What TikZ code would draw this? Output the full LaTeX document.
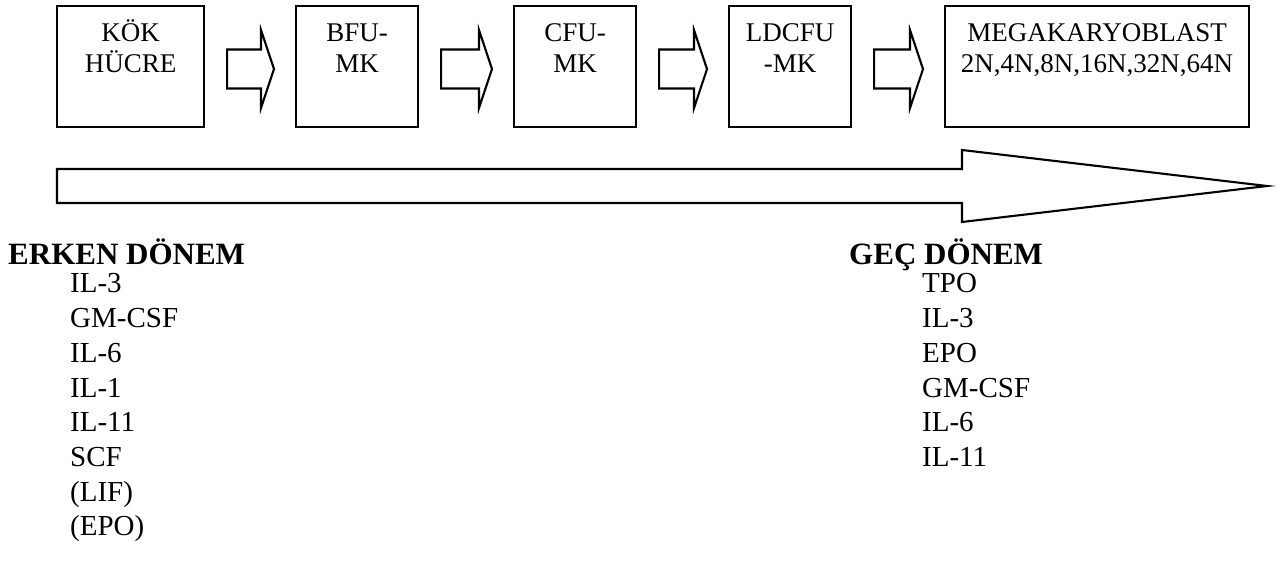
\documentclass[tikz,border=0pt]{standalone}
\usepackage{fontspec}
\setmainfont{Liberation Serif}
\usetikzlibrary{positioning,calc}

\begin{document}
\begin{tikzpicture}[x=1pt, y=-1pt,
    kutu/.style={draw, line width=2.1pt, anchor=north west, minimum height=121pt, inner sep=0pt},
    kutuyazi/.style={anchor=north, yshift=-14pt, align=center, inner sep=0pt,
        font=\fontsize{27}{31}\selectfont},
    blok/.style={draw, line width=2.1pt, line join=miter},
    baslik/.style={anchor=base west, inner sep=0pt, font=\bfseries\fontsize{31}{36}\selectfont},
    liste/.style={anchor=north west, inner sep=0pt, align=left, font=\fontsize{29}{34.7}\selectfont}]

    \useasboundingbox (0,0) rectangle (1285,569);

    % hucre kutulari
    \node[kutu, minimum width=147pt, label={[kutuyazi]north:KÖK\\HÜCRE}] (kok) at (56,5) {};
    \node[kutu, minimum width=122pt, label={[kutuyazi]north:\vphantom{Ö}BFU-\\MK}] (bfu) at (295,5) {};
    \node[kutu, minimum width=122pt, label={[kutuyazi]north:\vphantom{Ö}CFU-\\MK}] (cfu) at (513,5) {};
    \node[kutu, minimum width=122pt, label={[kutuyazi]north:\vphantom{Ö}LDCFU\\-MK}] (ldcfu) at (728,5) {};
    \node[kutu, minimum width=304pt, label={[kutuyazi]north:\vphantom{Ö}MEGAKARYOBLAST\\2N,4N,8N,16N,32N,64N}] (mega) at (944,5) {};

    % kutular arasi oklar
    \foreach \a/\b in {kok/bfu, bfu/cfu, cfu/ldcfu, ldcfu/mega}{
        \coordinate (s) at ($(\a.east)+(22,2.5)$);
        \coordinate (t) at ($(\b.west)+(-21,2.5)$);
        \draw[blok] ($(s)+(0,-19.5)$) -- ($(t)+(-13,-19.5)$) -- ($(t)+(-13,-39)$) -- (t)
            -- ($(t)+(-13,39)$) -- ($(t)+(-13,19.5)$) -- ($(s)+(0,19.5)$) -- cycle;
    }

    % buyuk ok
    \draw[blok] (57,169) -- (962,169) -- (962,150) -- (1267,186) -- (962,222) -- (962,203) -- (57,203) -- cycle;

    \node[baslik] (erken) at (8,265) {ERKEN DÖNEM};
    \node[liste] (erkenler) at (70,273.5) {IL-3\\GM-CSF\\IL-6\\IL-1\\IL-11\\SCF\\(LIF)\\(EPO)};

    \node[baslik] (gec) at (849,265) {GEÇ DÖNEM};
    \node[liste] (gecler) at (922,273.5) {TPO\\IL-3\\EPO\\GM-CSF\\IL-6\\IL-11};

\end{tikzpicture}
\end{document}
